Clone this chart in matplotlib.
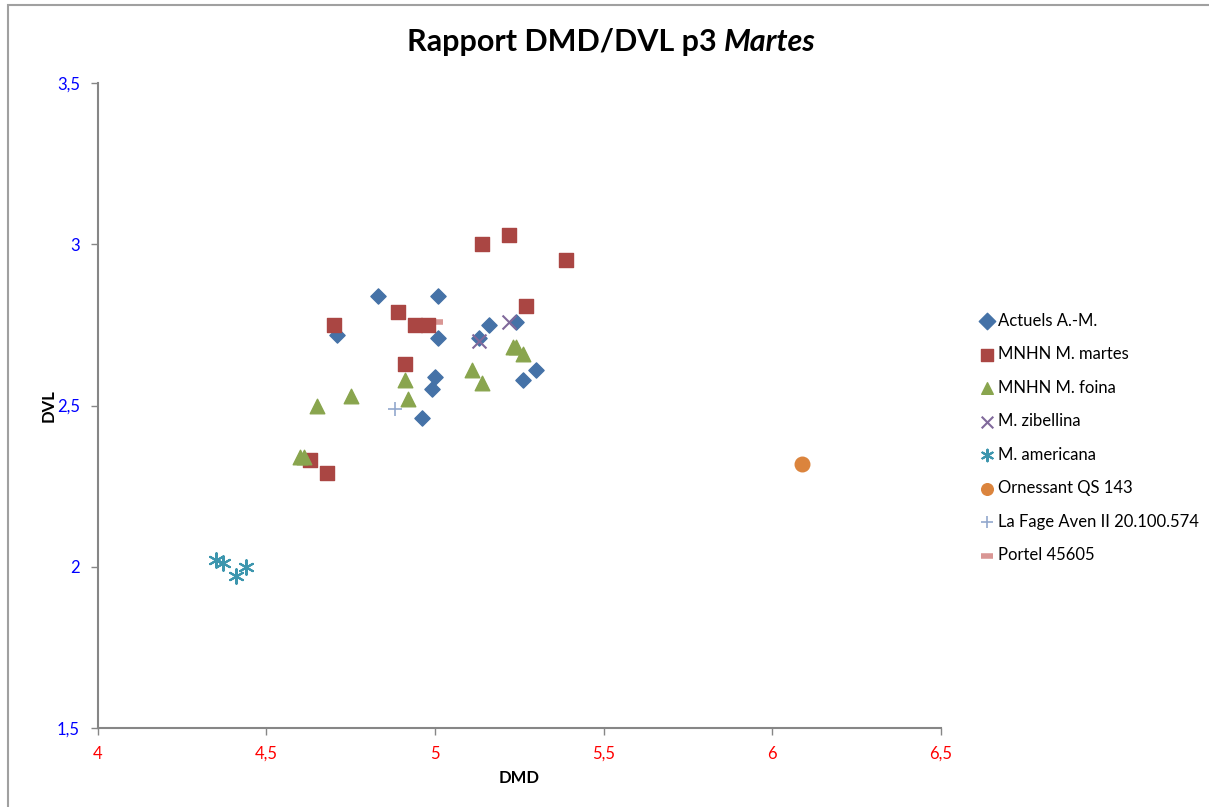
import matplotlib.pyplot as plt
from matplotlib.patches import Rectangle
from matplotlib.ticker import FuncFormatter

plt.rcParams['font.family'] = ['Lato', 'DejaVu Sans']

# data (DMD, DVL)
actuels_x = [4.83, 5.01, 4.71, 5.01, 5.16, 5.13, 5.24, 5.00, 4.99, 4.96, 5.26, 5.30]
actuels_y = [2.84, 2.84, 2.72, 2.71, 2.75, 2.71, 2.76, 2.59, 2.55, 2.46, 2.58, 2.61]

martes_x = [5.14, 5.22, 5.39, 5.27, 4.70, 4.89, 4.94, 4.98, 4.91, 4.63, 4.68]
martes_y = [3.00, 3.03, 2.95, 2.81, 2.75, 2.79, 2.75, 2.75, 2.63, 2.33, 2.29]

foina_x = [5.23, 5.24, 5.26, 5.11, 5.14, 4.91, 4.92, 4.75, 4.65, 4.60, 4.61]
foina_y = [2.68, 2.68, 2.66, 2.61, 2.57, 2.58, 2.52, 2.53, 2.50, 2.34, 2.34]

zibellina_x = [5.22, 5.13]
zibellina_y = [2.76, 2.70]

americana_x = [4.35, 4.37, 4.41, 4.44]
americana_y = [2.02, 2.01, 1.97, 2.00]

ornessant_x = [6.09]
ornessant_y = [2.32]

lafage_x = [4.88]
lafage_y = [2.49]

portel_x = [5.01]
portel_y = [2.76]

fig = plt.figure(figsize=(12.09, 8.07), dpi=100)
ax = fig.add_axes([0.081, 0.098, 0.697, 0.799])

# outer chart border (only top and left visible in the reference)
fig.patches.append(Rectangle((8 / 1209, -0.1), 1.2, 1 - 5 / 807 + 0.1,
                             transform=fig.transFigure, fill=False,
                             edgecolor='#a0a0a0', linewidth=1.5))

ax.scatter(actuels_x, actuels_y, marker='D', s=60, color='#4572A7', label='Actuels A.-M.', zorder=3)
ax.scatter(martes_x, martes_y, marker='s', s=115, color='#AA4643', label='MNHN M. martes', zorder=3)
ax.scatter(foina_x, foina_y, marker='^', s=110, color='#89A54E', label='MNHN M. foina', zorder=3)
ax.scatter(zibellina_x, zibellina_y, marker='x', s=100, color='#80699B', linewidths=1.5,
           label='M. zibellina', zorder=4)
ax.scatter(americana_x, americana_y, marker=(6, 2, 0), s=110, color='#3D96AE', linewidths=1.5,
           label='M. americana', zorder=4)
ax.scatter(ornessant_x, ornessant_y, marker='o', s=110, color='#DB843D', label='Ornessant QS 143', zorder=3)
ax.scatter(lafage_x, lafage_y, marker='+', s=110, color='#92A8CD', linewidths=1.2,
           label='La Fage Aven II 20.100.574', zorder=4)
ax.scatter(portel_x, portel_y, marker='_', s=60, color='#D99694', linewidths=4,
           label='Portel 45605', zorder=2)

ax.set_xlim(4, 6.5)
ax.set_ylim(1.5, 3.5)
ax.set_xticks([4, 4.5, 5, 5.5, 6, 6.5])
ax.set_yticks([1.5, 2, 2.5, 3, 3.5])
fmt = FuncFormatter(lambda v, p: ('%g' % v).replace('.', ','))
ax.xaxis.set_major_formatter(fmt)
ax.yaxis.set_major_formatter(fmt)

for s in ['top', 'right']:
    ax.spines[s].set_visible(False)
for s in ['left', 'bottom']:
    ax.spines[s].set_color('#868686')
    ax.spines[s].set_linewidth(1.5)

ax.tick_params(axis='x', colors='red', labelsize=12, length=5, width=1, direction='out', pad=8)
ax.tick_params(axis='y', colors='blue', labelsize=12, length=5, width=1, direction='out', pad=8)
ax.tick_params(axis='both', which='major', color='#868686')

ax.set_xlabel('DMD', fontsize=12, fontweight='bold', labelpad=6)
ax.set_ylabel('DVL', fontsize=12, fontweight='bold', labelpad=0)

split = 724 / 1209
fig.text(split, 0.948, 'Rapport DMD/DVL p3 ', fontsize=22, fontweight='bold', ha='right', va='center')
fig.text(split, 0.948, 'Martes', fontsize=22, fontweight='bold', style='italic', ha='left', va='center')

leg = ax.legend(loc='center left', bbox_to_anchor=(1.025, 0.45), frameon=False, fontsize=12,
                labelspacing=1.05, handletextpad=0.1, handlelength=1.2, scatterpoints=1)
for h in leg.legend_handles:
    h.set_sizes([70])

fig.savefig('out.png', dpi=100)
